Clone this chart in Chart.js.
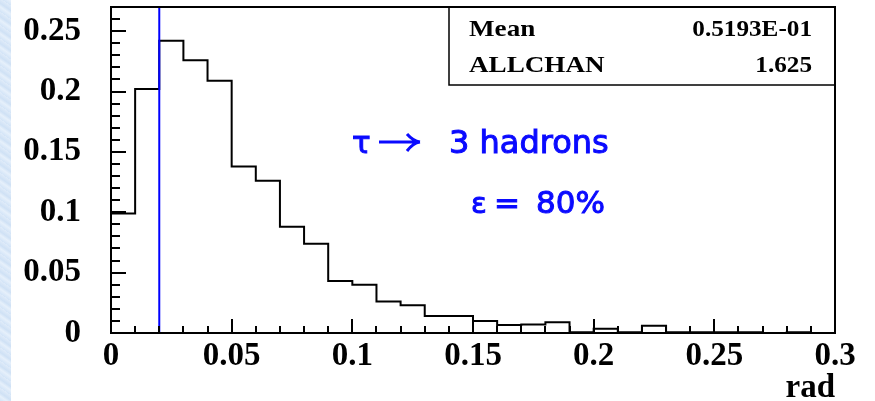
<!DOCTYPE html>
<html>
<head>
<meta charset="utf-8">
<script src="https://cdn.jsdelivr.net/npm/chart.js@4.4.1/dist/chart.umd.min.js"></script>
<style>
html,body{margin:0;padding:0;}
body{
    width:875px;height:401px;overflow:hidden;
    background:
        linear-gradient(to right, transparent 11px, #fff 11px),
        repeating-linear-gradient(35deg, #d3e4f7 0px, #e6f0fb 4px, #cfe1f5 7px, #dfebf9 11px),
        #d8e8f8;
}
#wrap{position:relative;width:875px;height:401px;}
</style>
</head>
<body>
<div id="wrap"><canvas id="hist" width="875" height="401"></canvas></div>
<script>
// histogram bins (rad), width 0.01
const binEdges=[0,0.01,0.02,0.03,0.04,0.05,0.06,0.07,0.08,0.09,0.10,0.11,0.12,0.13,0.14,0.15,
    0.16,0.17,0.18,0.19,0.20,0.21,0.22,0.23,0.24,0.25,0.26,0.27,0.28,0.29,0.30];
const binHeights=[0.099,0.202,0.242,0.226,0.209,0.138,0.126,0.088,0.074,0.043,
    0.040,0.026,0.023,0.014,0.014,0.010,0.0066,0.007,0.0088,0.0007,
    0.0036,0.0007,0.006,0.0007,0.0007,0.0007,0.0007,0,0.0007,0];
const cutValue=0.02;

const xTickValues=[0,0.05,0.1,0.15,0.2,0.25,0.3];
const xTickLabels=['0','0.05','0.1','0.15','0.2','0.25','0.3'];
const yTickValues=[0,0.05,0.1,0.15,0.2,0.25];
const yTickLabels=['0','0.05','0.1','0.15','0.2','0.25'];

const statNames=['Mean','ALLCHAN'];
const statValues=['0.5193E-01','1.625'];

const serif='"Liberation Serif","Times New Roman",serif';

let histPoints=binHeights.map((h,i)=>({x:binEdges[i],y:h}));
histPoints.push({x:binEdges[binEdges.length-1],y:binHeights[binHeights.length-1]});

// frame, inward ticks, stats box and labels
const decor={
    id:'decor',
    afterDraw(chart){
        const ctx=chart.ctx, a=chart.chartArea;
        const xs=chart.scales.x, ys=chart.scales.y;
        ctx.save();
        ctx.strokeStyle='#000';
        ctx.lineWidth=2;
        ctx.strokeRect(a.left,a.top,a.right-a.left,a.bottom-a.top);
        ctx.beginPath();
        for(let k=0;k<=30;k++){
            const px=Math.round(xs.getPixelForValue(k/100));
            const len=k%5===0?14:7;
            ctx.moveTo(px,a.bottom);ctx.lineTo(px,a.bottom-len);
        }
        for(let k=0;k<=27;k++){
            const py=Math.round(ys.getPixelForValue(k/100));
            const len=k%5===0?15:9;
            ctx.moveTo(a.left,py);ctx.lineTo(a.left+len,py);
        }
        ctx.stroke();

        // stats box
        const bx=a.right-386, by=a.top, bw=386, bh=78;
        ctx.lineWidth=1.5;
        ctx.strokeRect(bx,by,bw,bh);
        ctx.fillStyle='#000';
        const rows=[by+29,by+65];
        statNames.forEach((n,i)=>{
            ctx.save();
            ctx.font='bold 24px '+serif;
            ctx.translate(bx+20,rows[i]);
            ctx.scale(1.13,1);
            ctx.textAlign='left';
            ctx.fillText(n,0,0);
            ctx.restore();
            ctx.save();
            ctx.font='bold 24px '+serif;
            ctx.translate(a.right-23,rows[i]);
            ctx.scale(1.05,1);
            ctx.textAlign='right';
            ctx.fillText(statValues[i],0,0);
            ctx.restore();
        });

        // blue annotation
        ctx.fillStyle='#0a0aff';
        ctx.strokeStyle='#0a0aff';
        ctx.textAlign='left';
        ctx.lineWidth=1;
        const txt=(s,x,y,size)=>{
            ctx.font=size+'px "DejaVu Sans",sans-serif';
            ctx.fillText(s,x,y);
            ctx.strokeText(s,x,y);
        };
        txt('τ',352,153,31);
        txt('3 hadrons',449,153,32);
        txt('ε',471,213,29);
        txt('=',494,213,31);
        txt('80%',536,213,31);
        ctx.lineWidth=3;
        ctx.beginPath();
        ctx.moveTo(379,142);ctx.lineTo(419,142);
        ctx.moveTo(407,134);ctx.quadraticCurveTo(413,141,420,142);
        ctx.moveTo(407,151);ctx.quadraticCurveTo(413,143,420,142);
        ctx.stroke();
        ctx.restore();
    }
};

new Chart(document.getElementById('hist'),{
    type:'line',
    data:{
        datasets:[
            {label:'cut',data:[{x:cutValue,y:0},{x:cutValue,y:0.27}],borderColor:'#0000ff',borderWidth:2,pointRadius:0,order:0},
            {label:'hist',data:histPoints,stepped:'before',borderColor:'#000',borderWidth:2,pointRadius:0,fill:false,order:1}
        ]
    },
    options:{
        responsive:false,
        animation:false,
        events:[],
        layout:{padding:{top:7,right:40,left:0,bottom:0}},
        plugins:{legend:{display:false},tooltip:{enabled:false}},
        scales:{
            x:{
                type:'linear',min:0,max:0.3,
                afterBuildTicks:s=>{s.ticks=xTickValues.map(v=>({value:v}));},
                afterFit:s=>{s.height=68;s.paddingLeft=0;s.paddingRight=0;},
                grid:{display:false,drawTicks:false},
                border:{display:false},
                ticks:{
                    autoSkip:false,maxRotation:0,padding:4,color:'#000',
                    font:{family:serif,size:33,weight:'bold'},
                    callback:(v,i)=>xTickLabels[i]
                },
                title:{display:true,text:'rad',align:'end',color:'#000',
                    font:{family:serif,size:33,weight:'bold'},padding:{top:0,bottom:-7}}
            },
            y:{
                type:'linear',min:0,max:0.27,
                afterBuildTicks:s=>{s.ticks=yTickValues.map(v=>({value:v}));},
                afterFit:s=>{s.width=111;s.paddingTop=0;s.paddingBottom=0;},
                grid:{display:false,drawTicks:false},
                border:{display:false},
                ticks:{
                    autoSkip:false,padding:30,color:'#000',
                    font:{family:serif,size:33,weight:'bold'},
                    callback:(v,i)=>yTickLabels[i]
                }
            }
        }
    },
    plugins:[decor]
});
</script>
</body>
</html>
